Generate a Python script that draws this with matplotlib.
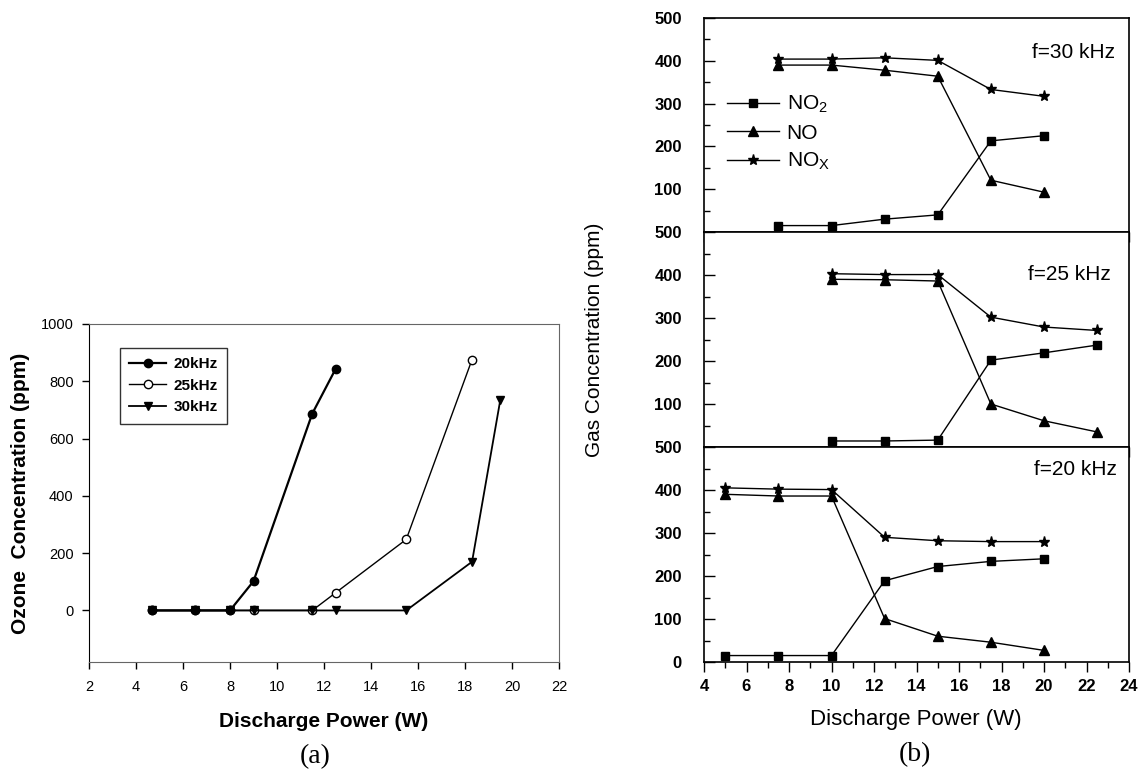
import numpy as np
import matplotlib.pyplot as plt
from matplotlib.ticker import MultipleLocator, FuncFormatter

plt.rcParams['font.family'] = ['Liberation Sans', 'DejaVu Sans']
plt.rcParams['mathtext.fontset'] = 'custom'
plt.rcParams['mathtext.rm'] = 'Liberation Sans'
plt.rcParams['mathtext.it'] = 'Liberation Sans'

# ---- panel (a): ozone vs discharge power
power_20 = [4.7, 6.5, 8.0, 9.0, 11.5, 12.5]
ozone_20 = [0, 0, 0, 102, 687, 844]
power_25 = [4.7, 6.5, 8.0, 9.0, 11.5, 12.5, 15.5, 18.3]
ozone_25 = [0, 0, 0, 0, 0, 62, 248, 876]
power_30 = [4.7, 6.5, 8.0, 9.0, 11.5, 12.5, 15.5, 18.3, 19.5]
ozone_30 = [0, 0, 0, 0, 0, 0, 0, 170, 734]

# ---- panel (b): gas concentrations for three frequencies
p30 = [7.5, 10, 12.5, 15, 17.5, 20]
no2_30 = [15, 15, 30, 40, 213, 225]
no_30 = [390, 390, 378, 364, 121, 93]
nox_30 = [404, 404, 407, 401, 333, 317]

p25 = [10, 12.5, 15, 17.5, 20, 22.5]
no2_25 = [14, 14, 16, 202, 219, 237]
no_25 = [390, 389, 386, 100, 61, 35]
nox_25 = [403, 401, 401, 302, 279, 271]

p20 = [5, 7.5, 10, 12.5, 15, 17.5, 20]
no2_20 = [15, 15, 15, 189, 222, 234, 240]
no_20 = [390, 386, 386, 101, 60, 46, 27]
nox_20 = [405, 402, 401, 290, 282, 280, 280]

W, H = 1141, 771
fig = plt.figure(figsize=(W / 100, H / 100), dpi=100)


def box(x0, y0, x1, y1):
    # pixel box (top-left origin) -> figure fraction
    return [x0 / W, 1 - y1 / H, (x1 - x0) / W, (y1 - y0) / H]


# ================= (a) =================
ax = fig.add_axes(box(89, 324, 559, 662))
l25, = ax.plot(power_25, ozone_25, '-o', color='black', lw=1.0, ms=6,
               mfc='white', label='25kHz')
l30, = ax.plot(power_30, ozone_30, '-v', color='black', lw=1.3, ms=6,
               label='30kHz')
l20, = ax.plot(power_20, ozone_20, '-o', color='black', lw=1.6, ms=6,
               label='20kHz')
ax.set_xlim(2, 22)
ax.set_ylim(-180, 1000)
ax.set_xticks(np.arange(2, 23, 2))
ax.set_yticks(np.arange(0, 1001, 200))
ax.tick_params(labelsize=10.5, direction='out', length=5, width=1)
ax.tick_params(axis='x', pad=8)
ax.tick_params(axis='y', pad=6)
for s in ['top', 'right', 'bottom']:
    ax.spines[s].set_color('#666666')
ax.spines['left'].set_color('black')
ax.set_xlabel('Discharge Power (W)', fontsize=15, fontweight='bold', labelpad=13)
ax.set_ylabel('Ozone  Concentration (ppm)', fontsize=15, fontweight='bold',
              labelpad=8)
leg = ax.legend([l20, l25, l30], ['20kHz', '25kHz', '30kHz'], loc='upper left',
                bbox_to_anchor=(0.066, 0.929), borderaxespad=0, fancybox=False,
                edgecolor='black', prop={'weight': 'bold', 'size': 11},
                handlelength=2.4, labelspacing=0.5, handletextpad=0.5,
                borderpad=0.6)
leg.get_frame().set_linewidth(1.0)
fig.text(315 / W, 1 - 757 / H, '(a)', family='Liberation Serif', fontsize=20,
         ha='center', va='center')

# ================= (b) =================
panels = [
    (18, 232, p30, no2_30, no_30, nox_30, 'f=30 kHz', 0.967, 0.84),
    (232, 447, p25, no2_25, no_25, nox_25, 'f=25 kHz', 0.958, 0.80),
    (447, 662, p20, no2_20, no_20, nox_20, 'f=20 kHz', 0.971, 0.897),
]
axes_b = []
for top, bot, px, no2, no, nox, ftxt, tx, ty in panels:
    bx = fig.add_axes(box(704, top, 1129, bot))
    bx.plot(px, no2, '-s', color='black', lw=1.0, ms=6, label='NO$_2$')
    bx.plot(px, no, '-^', color='black', lw=1.0, ms=7, label='NO')
    bx.plot(px, nox, '-*', color='black', lw=1.0, ms=8, label='NO$_X$')
    bx.set_xlim(4, 24)
    bx.set_ylim(0, 500)
    bx.xaxis.set_major_locator(MultipleLocator(2))
    bx.xaxis.set_minor_locator(MultipleLocator(1))
    bx.yaxis.set_major_locator(MultipleLocator(100))
    bx.yaxis.set_minor_locator(MultipleLocator(50))
    bx.tick_params(axis='x', which='major', direction='out', length=7, width=1,
                   labelsize=12, pad=5)
    bx.tick_params(axis='x', which='minor', direction='out', length=4, width=1)
    bx.tick_params(axis='y', which='major', direction='in', length=8, width=1,
                   labelsize=12, pad=16)
    bx.tick_params(axis='y', which='minor', direction='in', length=4, width=1)
    for s in bx.spines.values():
        s.set_linewidth(1.2)
    bx.text(tx, ty, ftxt, transform=bx.transAxes, ha='right', va='center',
            fontsize=15)
    axes_b.append(bx)

# the stacked panels share their boundary: the lower panel's "500"
# sits where the upper panel's "0" would be
for bx in axes_b[:2]:
    bx.tick_params(axis='x', labelbottom=False)
    bx.yaxis.set_major_formatter(FuncFormatter(
        lambda v, p: '' if v == 0 else f'{v:g}'))
for bx in axes_b:
    for lab in bx.get_xticklabels() + bx.get_yticklabels():
        lab.set_fontweight('bold')

axes_b[0].legend(loc='upper left', bbox_to_anchor=(0.055, 0.645), frameon=False,
                 fontsize=15, handlelength=2.5, handletextpad=0.35,
                 labelspacing=0.4, borderaxespad=0, borderpad=0)

fig.text(595 / W, 1 - 340 / H, 'Gas Concentration (ppm)', rotation=90,
         fontsize=15, ha='center', va='center')
fig.text(916 / W, 1 - 720 / H, 'Discharge Power (W)', fontsize=16,
         ha='center', va='center')
fig.text(915 / W, 1 - 755 / H, '(b)', family='Liberation Serif', fontsize=20,
         ha='center', va='center')

fig.savefig('out.png', dpi=100)
